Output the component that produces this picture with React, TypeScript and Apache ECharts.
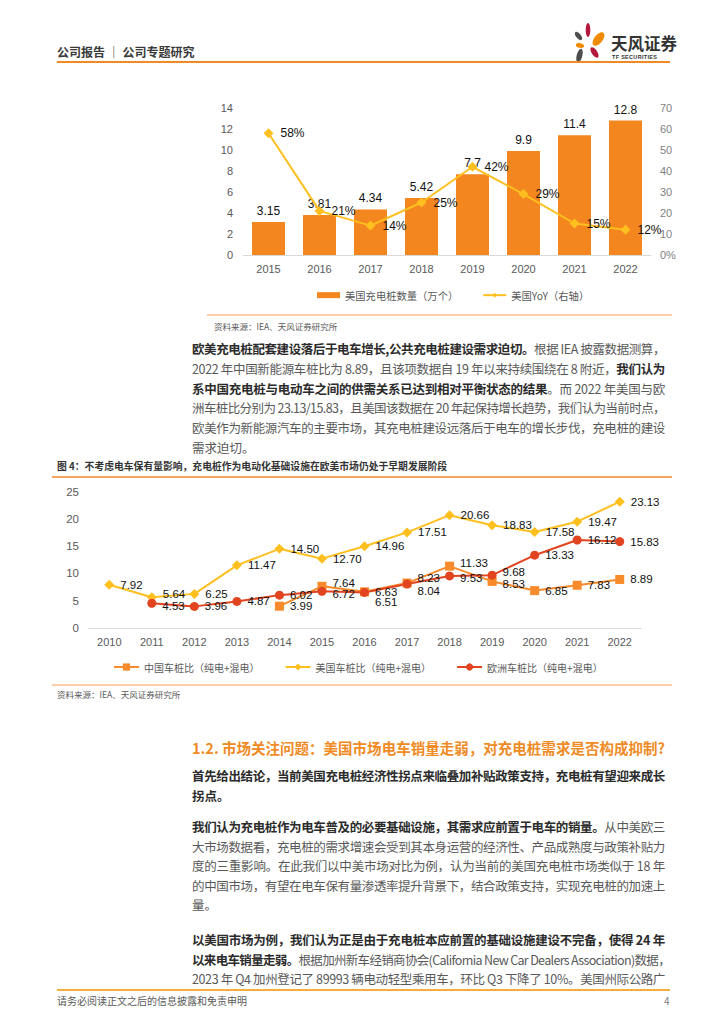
import React, { useEffect, useLayoutEffect, useRef } from "react";
import * as echarts from "echarts";

// ---------- data ----------
const years1 = ["2015", "2016", "2017", "2018", "2019", "2020", "2021", "2022"];
const usPiles = [3.15, 3.81, 4.34, 5.42, 7.7, 9.9, 11.4, 12.8];
const usYoY = [58, 21, 14, 25, 42, 29, 15, 12];

const years2 = ["2010", "2011", "2012", "2013", "2014", "2015", "2016", "2017", "2018", "2019", "2020", "2021", "2022"];
const chinaRatio = [null, null, null, null, 3.99, 7.64, 6.63, 8.23, 11.33, 8.53, 6.85, 7.83, 8.89];
const usRatio = [7.92, 5.64, 6.25, 11.47, 14.5, 12.7, 14.96, 17.51, 20.66, 18.83, 17.58, 19.47, 23.13];
const euRatio = [null, 4.53, 3.96, 4.87, 6.02, 6.72, 6.51, 8.04, 9.53, 9.68, 13.33, 16.12, 15.83];

const names1 = ["美国充电桩数量（万个）", "美国YoY（右轴）"];
const names2 = ["中国车桩比（纯电+混电）", "美国车桩比（纯电+混电）", "欧洲车桩比（纯电+混电）"];

// label nudges (layout only)
const euLabelShift: Record<number, number[]> = { 1: [0, 3], 5: [0, 3], 6: [0, 10], 7: [0, 7], 8: [0, 2], 9: [0, -3] };
const cnLabelShift: Record<number, number[]> = { 5: [0, -3], 7: [0, -5], 8: [0, -3], 9: [0, 3] };
const usLabelShift: Record<number, number[]> = { 1: [0, -3] };

const FONT = "'Liberation Sans', 'Noto Sans CJK SC', sans-serif";
const CJK = "'Noto Sans CJK SC', 'Liberation Sans', sans-serif";

const C_BAR = "#F4861F";
const C_YEL = "#FFBF1F";
const C_CN = "#F78B2C";
const C_EU = "#E2441F";

type Seg = [string, boolean];

function JLine(props: { x: number; y: number; w?: number; size: number; segs: Seg[]; color?: string; boldColor?: string; weight?: number }) {
  const ref = useRef<HTMLDivElement>(null);
  const { x, y, w, size, segs } = props;
  useLayoutEffect(() => {
    const el = ref.current;
    if (!el || !w) return;
    const fit = () => {
      el.style.letterSpacing = "0px";
      const nat = el.getBoundingClientRect().width;
      const n = (el.textContent || "").length;
      if (n > 1) el.style.letterSpacing = (w - nat) / n + "px";
    };
    fit();
    const f: any = (document as any).fonts;
    if (f && f.ready) f.ready.then(fit);
  }, []);
  const lh = 18;
  return (
    <div
      ref={ref}
      style={{
        position: "absolute",
        left: x,
        top: y - lh / 2,
        whiteSpace: "nowrap",
        fontSize: size,
        lineHeight: lh + "px",
        fontFamily: CJK,
        color: props.color || "#595959",
        display: "inline-block",
      }}
    >
      {segs.map((s, i) => (
        <span key={i} style={s[1] ? { fontWeight: props.weight || 700, color: props.boldColor || "#2b2b2b" } : undefined}>
          {s[0]}
        </span>
      ))}
    </div>
  );
}

function HLine(props: { x1: number; x2: number; y: number; color: string; h?: number }) {
  const h = props.h || 1;
  return (
    <div style={{ position: "absolute", left: props.x1, top: props.y - h / 2, width: props.x2 - props.x1, height: h, background: props.color }} />
  );
}

function Txt(props: { x: number; y: number; size: number; color: string; text: string; weight?: number; ls?: number; family?: string }) {
  const lh = Math.ceil(props.size * 1.4);
  return (
    <div
      style={{
        position: "absolute",
        left: props.x,
        top: props.y - lh / 2,
        lineHeight: lh + "px",
        fontSize: props.size,
        color: props.color,
        fontWeight: props.weight || 400,
        whiteSpace: "nowrap",
        fontFamily: props.family || CJK,
        letterSpacing: props.ls || 0,
      }}
    >
      {props.text}
    </div>
  );
}

export default function App() {
  const chartRef = useRef<HTMLDivElement>(null);

  useEffect(() => {
    if (!chartRef.current) return;
    const chart = echarts.init(chartRef.current, null, { renderer: "svg" });
    const axisLabel = { color: "#595959", fontSize: 11, fontFamily: FONT };
    const lbl2 = (p: any) => (typeof p.value === "number" ? p.value.toFixed(2) : "");
    const toData = (arr: (number | null)[], shift: Record<number, number[]>) =>
      arr.map((v, i) => {
        if (v === null) return "-";
        if (shift[i]) return { value: v, label: { offset: shift[i] } };
        return v;
      });

    const petal = (cx: number, cy: number, rx: number, ry: number, rot: number, color: string) => ({
      type: "ellipse",
      x: cx,
      y: cy,
      rotation: rot,
      shape: { cx: 0, cy: 0, rx, ry },
      style: { fill: color },
    });

    const option: any = {
      animation: false,
      textStyle: { fontFamily: FONT },
      grid: [
        { left: 243, top: 108, width: 408, height: 147 },
        { left: 88, top: 491.5, width: 553, height: 136.5 },
      ],
      xAxis: [
        {
          type: "category",
          gridIndex: 0,
          data: years1,
          axisLine: { lineStyle: { color: "#D9D9D9", width: 1 } },
          axisTick: { show: false },
          axisLabel: { ...axisLabel, margin: 8 },
        },
        {
          type: "category",
          gridIndex: 1,
          data: years2,
          axisLine: { lineStyle: { color: "#D9D9D9", width: 1 } },
          axisTick: { show: false },
          axisLabel: { ...axisLabel, margin: 8 },
        },
      ],
      yAxis: [
        {
          type: "value",
          gridIndex: 0,
          min: 0,
          max: 14,
          interval: 2,
          splitLine: { show: false },
          axisLine: { show: false },
          axisTick: { show: false },
          axisLabel: { ...axisLabel, margin: 10 },
        },
        {
          type: "value",
          gridIndex: 0,
          min: 0,
          max: 70,
          interval: 10,
          position: "right",
          splitLine: { show: false },
          axisLine: { show: false },
          axisTick: { show: false },
          axisLabel: { ...axisLabel, color: "#7f7f7f", margin: 9, formatter: (v: number) => (v === 0 ? "0%" : String(v)) },
        },
        {
          type: "value",
          gridIndex: 1,
          min: 0,
          max: 25,
          interval: 5,
          splitLine: { show: false },
          axisLine: { show: false },
          axisTick: { show: false },
          axisLabel: { ...axisLabel, fontSize: 11.5, margin: 9 },
        },
      ],
      legend: [
        {
          data: [{ name: names1[0], icon: "rect" }, { name: names1[1] }],
          left: 312,
          top: 285,
          itemWidth: 23,
          itemHeight: 6,
          itemGap: 24,
          textStyle: { color: "#595959", fontSize: 10.3, fontFamily: CJK },
        },
        {
          data: names2,
          left: 108,
          top: 657,
          itemWidth: 25,
          itemHeight: 9,
          itemGap: 25,
          textStyle: { color: "#595959", fontSize: 10, fontFamily: CJK },
        },
      ],
      series: [
        {
          name: names1[0],
          type: "bar",
          xAxisIndex: 0,
          yAxisIndex: 0,
          data: usPiles,
          barWidth: 33,
          itemStyle: { color: C_BAR },
          label: { show: true, position: "top", distance: 5, color: "#111", fontSize: 12, fontFamily: FONT },
        },
        {
          name: names1[1],
          type: "line",
          xAxisIndex: 0,
          yAxisIndex: 1,
          data: usYoY,
          symbol: "diamond",
          symbolSize: 10,
          lineStyle: { color: C_YEL, width: 2 },
          itemStyle: { color: C_YEL },
          label: { show: true, position: "right", distance: 7, color: "#111", fontSize: 12, fontFamily: FONT, formatter: "{c}%" },
        },
        {
          name: names2[0],
          type: "line",
          xAxisIndex: 1,
          yAxisIndex: 2,
          data: toData(chinaRatio, cnLabelShift),
          symbol: "rect",
          symbolSize: 9,
          lineStyle: { color: C_CN, width: 2 },
          itemStyle: { color: C_CN },
          label: { show: true, position: "right", distance: 6, color: "#111", fontSize: 11.5, fontFamily: FONT, formatter: lbl2 },
        },
        {
          name: names2[1],
          type: "line",
          xAxisIndex: 1,
          yAxisIndex: 2,
          data: toData(usRatio, usLabelShift),
          symbol: "diamond",
          symbolSize: 10,
          lineStyle: { color: C_YEL, width: 2 },
          itemStyle: { color: C_YEL },
          label: { show: true, position: "right", distance: 6, color: "#111", fontSize: 11.5, fontFamily: FONT, formatter: lbl2 },
        },
        {
          name: names2[2],
          type: "line",
          xAxisIndex: 1,
          yAxisIndex: 2,
          data: toData(euRatio, euLabelShift),
          symbol: "circle",
          symbolSize: 9,
          lineStyle: { color: C_EU, width: 2 },
          itemStyle: { color: C_EU },
          label: { show: true, position: "right", distance: 6, color: "#111", fontSize: 11.5, fontFamily: FONT, formatter: lbl2 },
        },
      ],
      graphic: [
        petal(588, 30, 2.3, 7, 0, "#B3173C"),
        petal(578.5, 36, 2.4, 5, 0.7, "#4D4D4D"),
        petal(598.5, 39, 4.2, 8, -0.65, "#F08A00"),
        petal(580, 45.5, 4.3, 2.4, -0.2, "#F08A00"),
        petal(594.5, 52.5, 2.8, 6, 0.6, "#B3173C"),
        petal(579.5, 55.5, 2.8, 7, -0.25, "#4D4D4D"),
      ],
    };
    chart.setOption(option);
    return () => chart.dispose();
  }, []);

  const W = 473;
  const X = 192;

  return (
    <div style={{ position: "absolute", left: 0, top: 0, width: 724, height: 1024, background: "#fff", overflow: "hidden" }}>
      <div ref={chartRef} style={{ position: "absolute", left: 0, top: 0, width: 724, height: 1024 }} />

      {/* header */}
      <Txt x={57} y={51} size={12} color="#3a3a3a" weight={700} text="公司报告 ｜ 公司专题研究" />
      <Txt x={611} y={43} size={16.5} color="#333" weight={700} text="天风证券" />
      <Txt x={612} y={57} size={5.5} color="#333" weight={700} ls={0.3} family={FONT} text="TF SECURITIES" />
      <HLine x1={57} x2={670} y={62} color="#F08A24" h={2} />

      {/* chart 1 footer */}
      <HLine x1={207} x2={672} y={315} color="#F9CDA8" h={1.5} />
      <Txt x={214} y={326} size={8.5} color="#595959" text="资料来源：IEA、天风证券研究所" />

      {/* paragraph 1 */}
      <JLine x={X} y={349} w={W} size={12.5} segs={[["欧美充电桩配套建设落后于电车增长,公共充电桩建设需求迫切。", true], ["根据 IEA 披露数据测算，", false]]} />
      <JLine x={X} y={369} w={W} size={12.5} segs={[["2022 年中国新能源车桩比为 8.89，且该项数据自 19 年以来持续围绕在 8 附近，", false], ["我们认为", true]]} />
      <JLine x={X} y={389} w={W} size={12.5} segs={[["系中国充电桩与电动车之间的供需关系已达到相对平衡状态的结果", true], ["。而 2022 年美国与欧", false]]} />
      <JLine x={X} y={408} w={W} size={12.5} segs={[["洲车桩比分别为 23.13/15.83，且美国该数据在 20 年起保持增长趋势，我们认为当前时点，", false]]} />
      <JLine x={X} y={428} w={W} size={12.5} segs={[["欧美作为新能源汽车的主要市场，其充电桩建设远落后于电车的增长步伐，充电桩的建设", false]]} />
      <JLine x={X} y={448} size={12.5} segs={[["需求迫切。", false]]} />

      {/* figure 4 title */}
      <Txt x={57} y={466} size={9.8} color="#333" weight={700} text="图 4：不考虑电车保有量影响，充电桩作为电动化基础设施在欧美市场仍处于早期发展阶段" />
      <HLine x1={52} x2={672} y={477} color="#F5A35E" h={1.5} />
      <HLine x1={52} x2={672} y={685} color="#F9CDA8" h={1.5} />
      <Txt x={57} y={694} size={8.5} color="#595959" text="资料来源：IEA、天风证券研究所" />

      {/* section heading */}
      <JLine x={X} y={748} w={W} size={14.5} weight={700} color="#F08A24" boldColor="#F08A24" segs={[["1.2. 市场关注问题：美国市场电车销量走弱，对充电桩需求是否构成抑制?", true]]} />

      <JLine x={X} y={776} w={W} size={12.5} segs={[["首先给出结论，当前美国充电桩经济性拐点来临叠加补贴政策支持，充电桩有望迎来成长", true]]} />
      <JLine x={X} y={796} size={12.5} segs={[["拐点。", true]]} />

      <JLine x={X} y={827} w={W} size={12.5} segs={[["我们认为充电桩作为电车普及的必要基础设施，其需求应前置于电车的销量。", true], ["从中美欧三", false]]} />
      <JLine x={X} y={847} w={W} size={12.5} segs={[["大市场数据看，充电桩的需求增速会受到其本身运营的经济性、产品成熟度与政策补贴力", false]]} />
      <JLine x={X} y={866} w={W} size={12.5} segs={[["度的三重影响。在此我们以中美市场对比为例，认为当前的美国充电桩市场类似于 18 年", false]]} />
      <JLine x={X} y={886} w={W} size={12.5} segs={[["的中国市场，有望在电车保有量渗透率提升背景下，结合政策支持，实现充电桩的加速上", false]]} />
      <JLine x={X} y={905} size={12.5} segs={[["量。", false]]} />

      <JLine x={X} y={940} w={W} size={12.5} segs={[["以美国市场为例，我们认为正是由于充电桩本应前置的基础设施建设不完备，使得 24 年", true]]} />
      <JLine x={X} y={960} w={478} size={12.5} segs={[["以来电车销量走弱。", true], ["根据加州新车经销商协会(California New Car Dealers Association)数据，", false]]} />
      <JLine x={X} y={979} w={W} size={12.5} segs={[["2023 年 Q4 加州登记了 89993 辆电动轻型乘用车，环比 Q3 下降了 10%。美国州际公路广", false]]} />

      {/* footer */}
      <HLine x1={57} x2={670} y={990} color="#F3AE3D" h={1.5} />
      <Txt x={57} y={1001} size={10} color="#595959" text="请务必阅读正文之后的信息披露和免责申明" />
      <Txt x={664} y={1001} size={10} color="#808080" text="4" />
    </div>
  );
}
